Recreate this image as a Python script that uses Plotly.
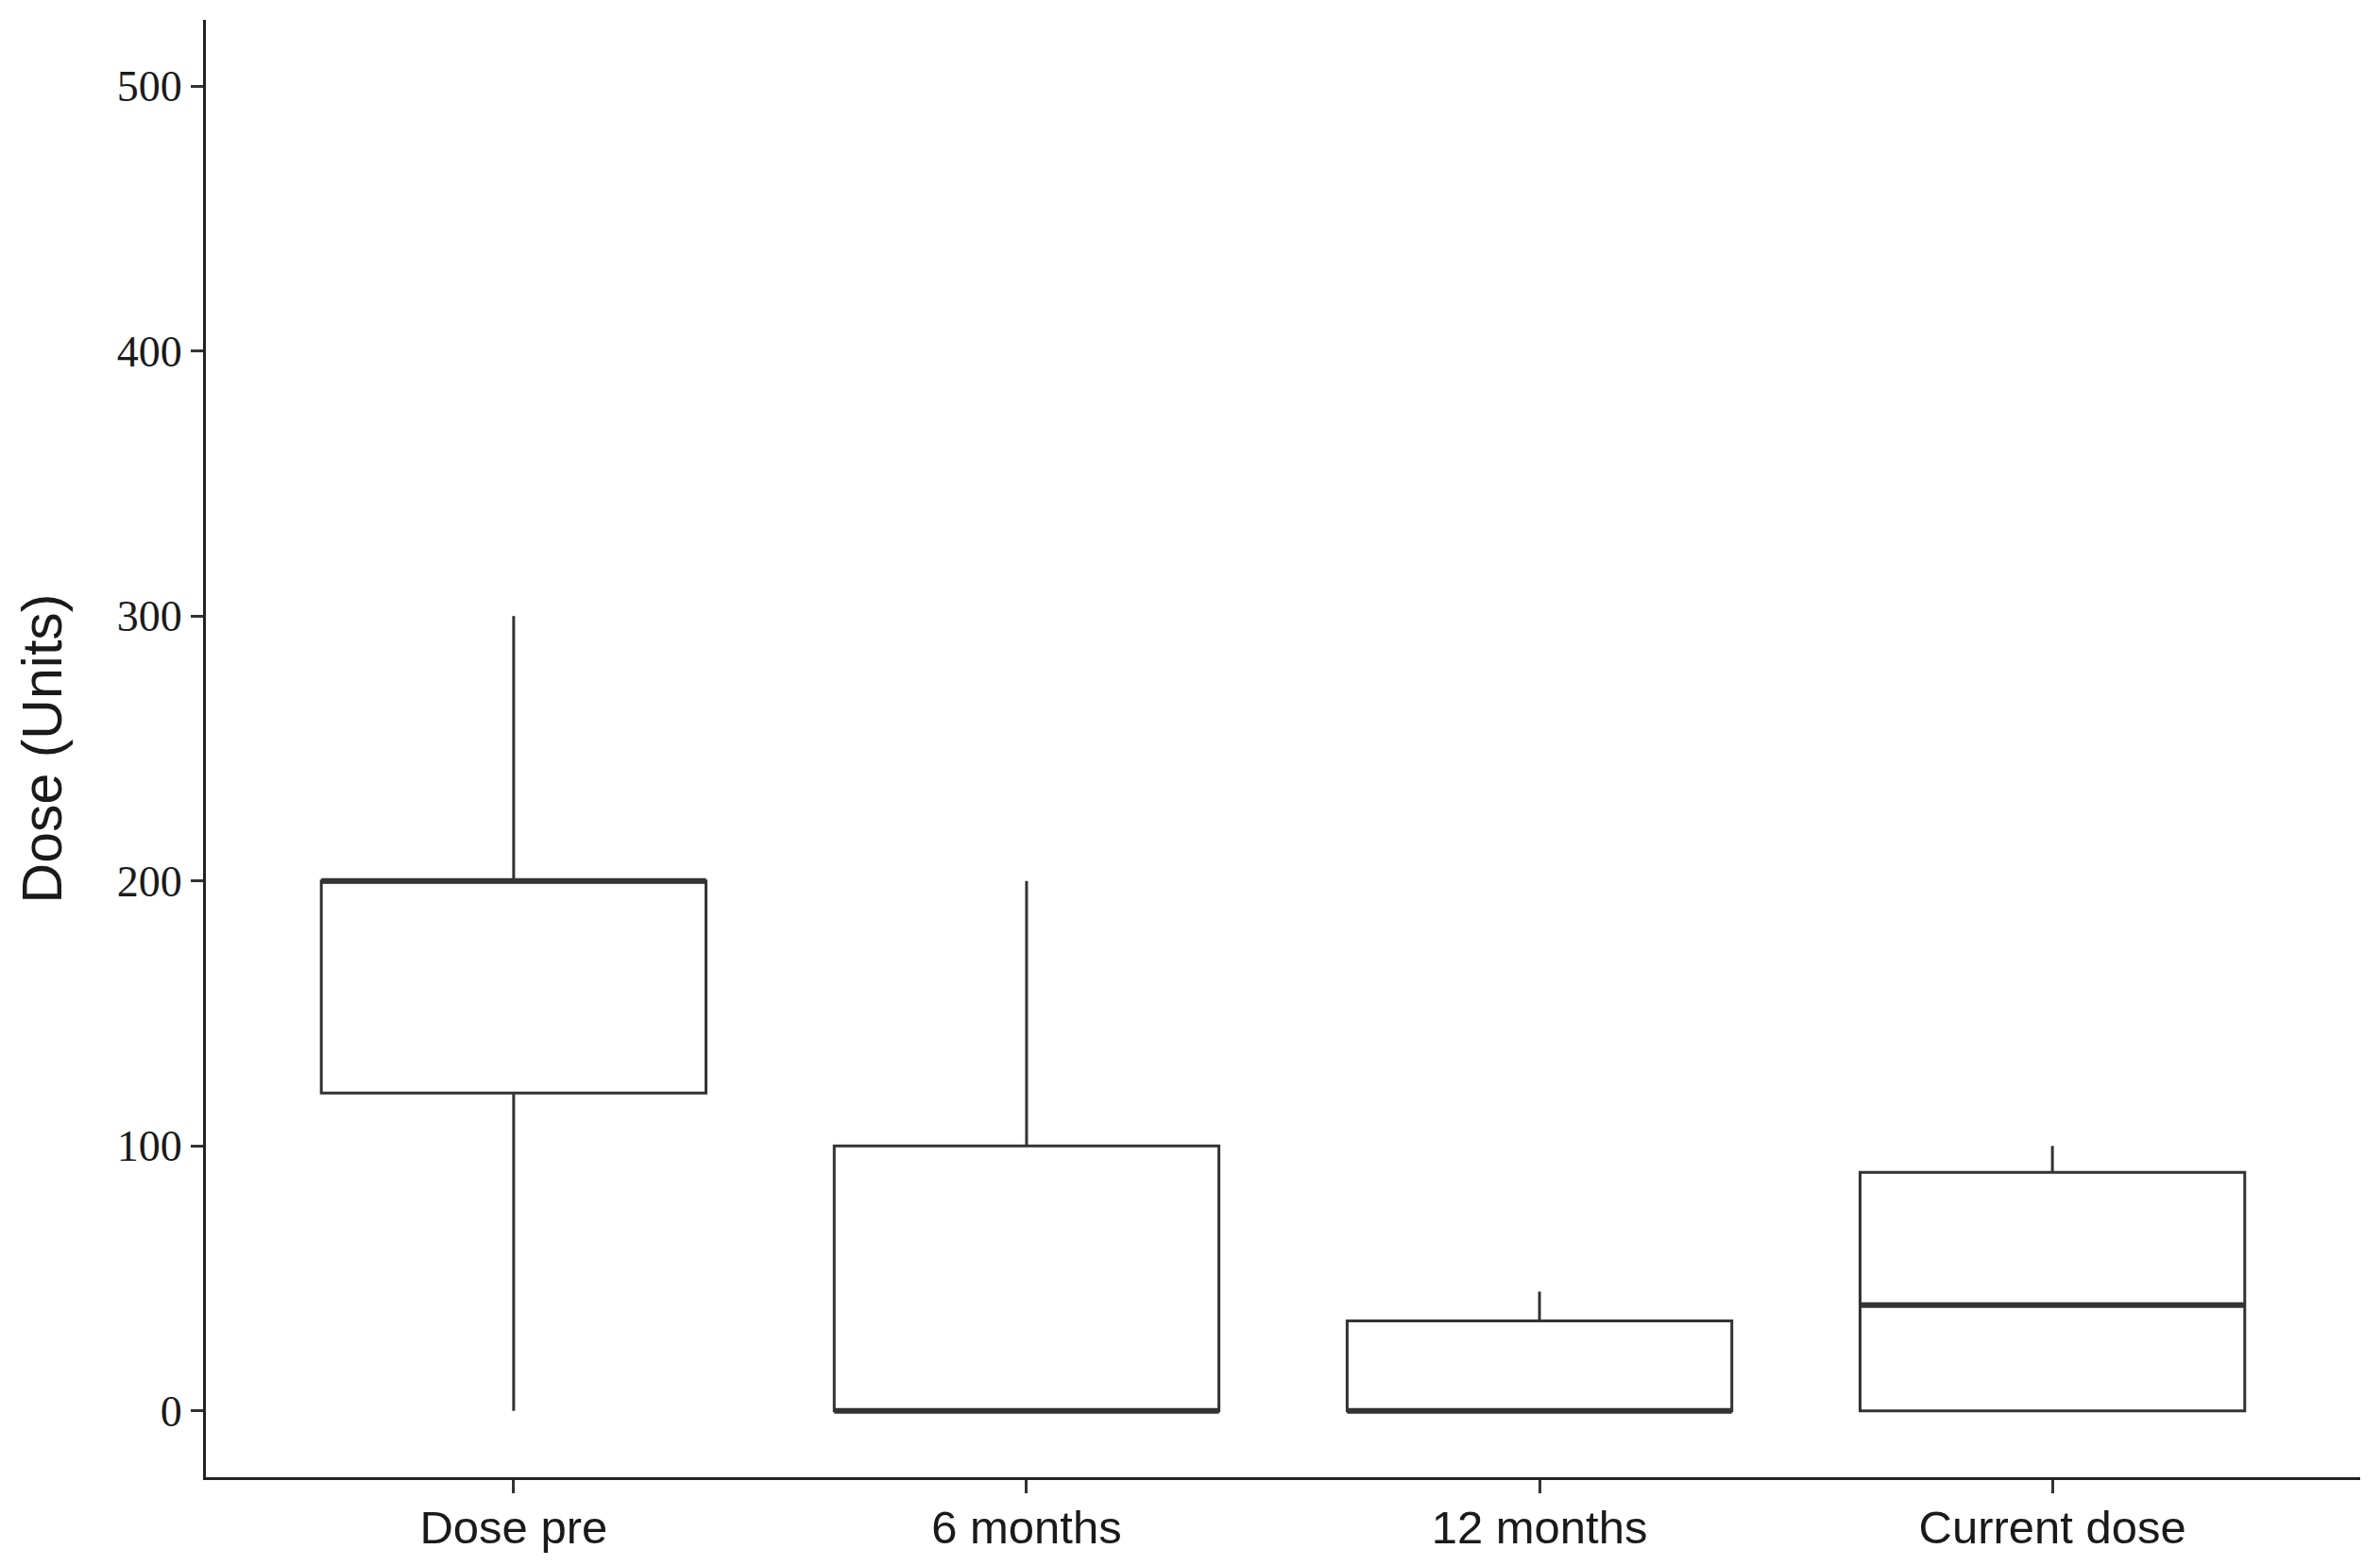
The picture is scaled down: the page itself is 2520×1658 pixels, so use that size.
import plotly.graph_objects as go

categories = ["Dose pre", "6 months", "12 months", "Current dose"]
lower_whisker = [0, 0, 0, 0]
q1_values = [120, 0, 0, 0]
medians = [200, 0, 0, 40]
q3_values = [200, 100, 34, 90]
upper_whisker = [300, 200, 45, 100]

y_tickvals = [0, 100, 200, 300, 400, 500]
y_ticktext = ["0", "100", "200", "300", "400", "500"]

line_col = "#333333"

fig = go.Figure()

fig.add_trace(go.Box(
    x=categories,
    q1=q1_values,
    median=medians,
    q3=q3_values,
    lowerfence=lower_whisker,
    upperfence=upper_whisker,
    width=0.75,
    fillcolor="white",
    line=dict(color=line_col, width=3),
    whiskerwidth=0,
    boxpoints=False,
    showlegend=False,
))

# thicker median lines (ggplot style)
fig.add_trace(go.Box(
    x=categories,
    q1=medians,
    median=medians,
    q3=medians,
    lowerfence=medians,
    upperfence=medians,
    width=0.75,
    fillcolor="rgba(0,0,0,0)",
    line=dict(color=line_col, width=6),
    whiskerwidth=0,
    boxpoints=False,
    showlegend=False,
))

fig.update_layout(
    width=2520,
    height=1658,
    margin=dict(l=210, r=29, t=13, b=102, autoexpand=False),
    paper_bgcolor="white",
    plot_bgcolor="white",
    boxmode="overlay",
    showlegend=False,
)

fig.update_xaxes(
    type="category",
    range=[-0.6, 3.6],
    showgrid=False,
    zeroline=False,
    showline=True,
    linecolor="#222222",
    linewidth=3,
    ticks="outside",
    ticklen=14,
    tickwidth=2.5,
    tickcolor="#333333",
    ticklabelstandoff=-6,
    tickfont=dict(family="Liberation Sans", size=49, color="#1a1a1a"),
    automargin=False,
)

fig.update_yaxes(
    range=[-25, 525],
    tickvals=y_tickvals,
    ticktext=y_ticktext,
    showgrid=False,
    zeroline=False,
    showline=True,
    linecolor="#222222",
    linewidth=3,
    ticks="outside",
    ticklen=13,
    tickwidth=2.5,
    tickcolor="#333333",
    tickfont=dict(family="Liberation Serif", size=46, color="#1a1a1a"),
    title=dict(text="Dose (Units)", font=dict(family="Liberation Sans", size=59, color="#1a1a1a"), standoff=40),
    automargin=False,
)

fig.write_html("out.html")
